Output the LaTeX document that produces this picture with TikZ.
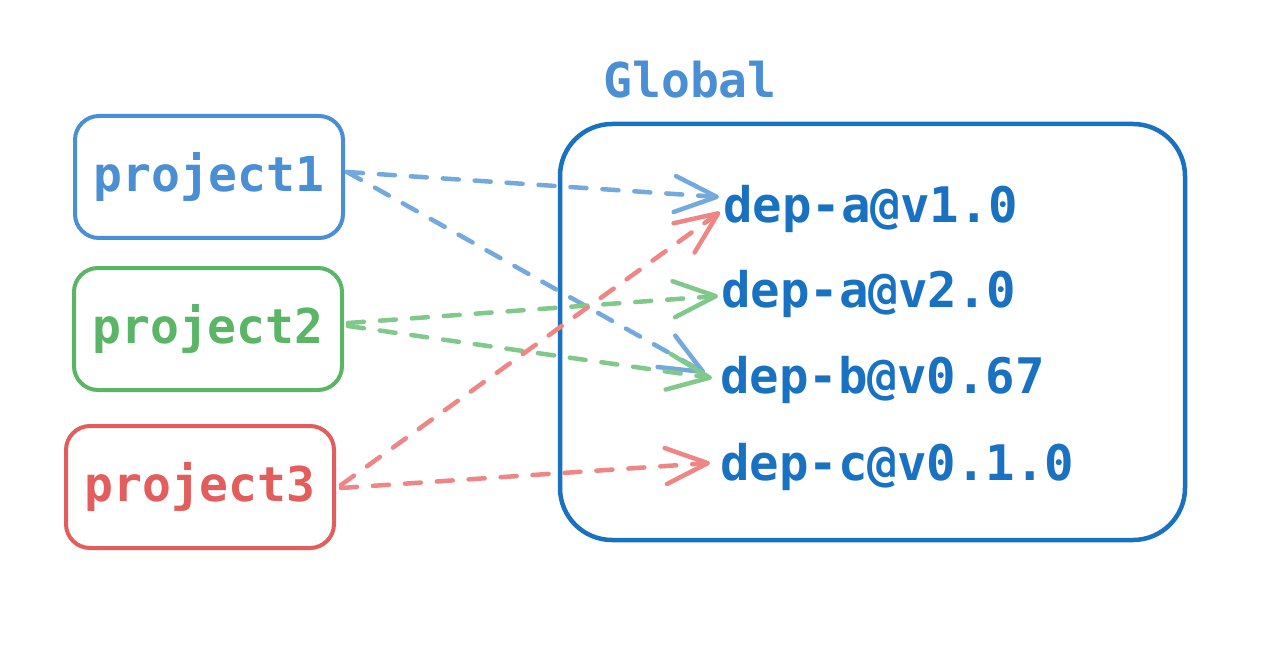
\documentclass[tikz,border=0pt]{standalone}
\usepackage{fontspec}
\setmonofont{DejaVu Sans Mono}
\usetikzlibrary{arrows.meta}
\definecolor{pblue}{HTML}{4A8FD3}
\definecolor{ablue}{HTML}{74A9DE}
\definecolor{pgreen}{HTML}{5AB566}
\definecolor{agreen}{HTML}{80C98B}
\definecolor{pred}{HTML}{E35D5D}
\definecolor{ared}{HTML}{EF8585}
\definecolor{gblue}{HTML}{1971C2}
\begin{document}
\begin{tikzpicture}[x=1pt,y=-1pt,
  txt/.style={font=\ttfamily\bfseries\fontsize{48}{56}\selectfont},
  proj/.style={txt, draw, line width=4pt, rounded corners=24pt, minimum width=268pt, minimum height=122pt, inner sep=0pt},
  dep/.style={font=\ttfamily\bfseries\fontsize{49}{56}\selectfont, anchor=base west, text=gblue, inner sep=0pt},
  conn/.style={line width=4.5pt, dash pattern=on 16pt off 16pt, line cap=round,
    -{Straight Barb[length=42pt, width=36pt, line width=4.5pt, round]}}
]
\useasboundingbox (0,0) rectangle (1276,652);
\fill[white] (0,0) rectangle (1276,652);

% global container
\node[draw=gblue, line width=4.5pt, rounded corners=52pt, minimum width=625pt, minimum height=416pt, inner sep=0pt] (global) at (872.5,332) {};
\node[txt, text=pblue, anchor=base] (glabel) at (690,98) {Global};

% projects
\node[proj, draw=pblue, text=pblue] (p1) at (209,177) {project1};
\node[proj, draw=pgreen, text=pgreen] (p2) at (208,329) {project2};
\node[proj, draw=pred, text=pred] (p3) at (200,487) {project3};

% dependencies
\node[dep] (da1) at (723,223) {dep-a@v1.0};
\node[dep] (da2) at (721,307) {dep-a@v2.0};
\node[dep] (db) at (720,393) {dep-b@v0.67};
\node[dep] (dc) at (720,480) {dep-c@v0.1.0};

% arrow end points
\coordinate (e11) at ([shift={(-4pt,26pt)}]da1.base west);
\coordinate (e31) at ([shift={(-3pt,11pt)}]da1.base west);
\coordinate (e22) at ([shift={(-3pt,11pt)}]da2.base west);
\coordinate (e1b) at ([shift={(-15pt,20pt)}]db.base west);
\coordinate (e2b) at ([shift={(-8pt,15pt)}]db.base west);
\coordinate (e3c) at ([shift={(-10pt,17pt)}]dc.base west);

% connectors
\draw[conn, ablue] ([shift={(2pt,5pt)}]p1.east) -- (e11);
\draw[conn, ablue] ([shift={(2pt,5pt)}]p1.east) -- (e1b);
\draw[conn, agreen] ([shift={(4pt,6pt)}]p2.east) -- (e22);
\draw[conn, agreen] ([shift={(4pt,3pt)}]p2.east) -- (e2b);
\draw[conn, ared] ([shift={(5pt,2pt)}]p3.east) -- (e31);
\draw[conn, ared] ([shift={(5pt,-1pt)}]p3.east) -- (e3c);
\end{tikzpicture}
\end{document}
